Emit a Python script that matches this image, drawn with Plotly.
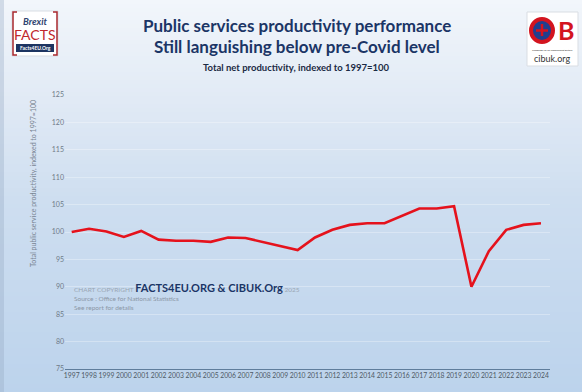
import plotly.graph_objects as go

# Public services total net productivity, index 1997 = 100
years = list(range(1997, 2025))
productivity = [100.0, 100.6, 100.1, 99.1, 100.2, 98.6, 98.4, 98.4, 98.2, 99.0,
                98.9, 98.2, 97.4, 96.7, 99.0, 100.4, 101.3, 101.6, 101.6, 103.0,
                104.3, 104.3, 104.7, 90.0, 96.5, 100.4, 101.3, 101.6]
y_ticks = [75, 80, 85, 90, 95, 100, 105, 110, 115, 120, 125]

W, H = 582, 392
L, R, T, B = 65, 550, 95, 369   # plot area in pixels


def fx(x):
    return (x - L) / (R - L)


def fy(y):
    return (B - y) / (B - T)


def mix(c1, c2, t):
    return "#%02x%02x%02x" % tuple(round(a + (b - a) * t) for a, b in zip(c1, c2))


fig = go.Figure()
fig.add_trace(go.Scatter(
    x=years, y=productivity, mode="lines",
    line=dict(color="#e5121c", width=2.6),
    hoverinfo="skip", showlegend=False,
))

shapes = []
# vertical background gradient, pale at the top to soft blue at the bottom
stops = [(0, (242, 246, 251)), (100, (225, 234, 245)), (200, (206, 222, 240)),
         (392, (188, 211, 236))]
n = 98
for i in range(n):
    y0 = i * H / n
    y1 = (i + 1) * H / n
    ym = (y0 + y1) / 2
    for (a, ca), (b, cb) in zip(stops, stops[1:]):
        if a <= ym <= b:
            col = mix(ca, cb, (ym - a) / (b - a))
            break
    shapes.append(dict(type="rect", xref="paper", yref="paper", layer="below",
                       x0=fx(0), x1=fx(W), y0=fy(y1), y1=fy(y0),
                       fillcolor=col, line=dict(width=0)))
# slight shade on the left edge
shapes.append(dict(type="rect", xref="paper", yref="paper", layer="below",
                   x0=fx(0), x1=fx(4), y0=fy(H), y1=fy(0),
                   fillcolor="rgba(150,170,195,0.35)", line=dict(width=0)))

# Brexit Facts badge
shapes += [
    dict(type="rect", xref="paper", yref="paper", x0=fx(12), x1=fx(58), y0=fy(56), y1=fy(11),
         fillcolor="white", line=dict(color="#d9dde3", width=1)),
    dict(type="path", xref="paper", yref="paper",
         path=f"M {fx(17)},{fy(12)} L {fx(13)},{fy(12)} L {fx(13)},{fy(55)} L {fx(17)},{fy(55)}",
         line=dict(color="#a8282e", width=1.5)),
    dict(type="path", xref="paper", yref="paper",
         path=f"M {fx(53)},{fy(12)} L {fx(57)},{fy(12)} L {fx(57)},{fy(55)} L {fx(53)},{fy(55)}",
         line=dict(color="#a8282e", width=1.5)),
    dict(type="rect", xref="paper", yref="paper", x0=fx(16), x1=fx(54), y0=fy(52), y1=fy(44),
         fillcolor="#1d3461", line=dict(width=0)),
]
# CIB badge
shapes += [
    dict(type="rect", xref="paper", yref="paper", x0=fx(527), x1=fx(578), y0=fy(66), y1=fy(12),
         fillcolor="white", line=dict(color="#d9dde3", width=1)),
    dict(type="circle", xref="paper", yref="paper", x0=fx(531), x1=fx(553), y0=fy(42), y1=fy(19),
         fillcolor="#1f3f8f", line=dict(color="#d3141f", width=4)),
    dict(type="line", xref="paper", yref="paper", x0=fx(536), x1=fx(548), y0=fy(30.5), y1=fy(30.5),
         line=dict(color="#d3141f", width=2.5)),
    dict(type="line", xref="paper", yref="paper", x0=fx(542), x1=fx(542), y0=fy(36), y1=fy(24),
         line=dict(color="#d3141f", width=2.5)),
]

ann = []


def text(x, y, s, size, color, bold=False, xanchor="center", family="Lato", italic=False,
         angle=0):
    if bold:
        s = f"<b>{s}</b>"
    if italic:
        s = f"<i>{s}</i>"
    ann.append(dict(x=fx(x), y=fy(y), xref="paper", yref="paper", text=s, showarrow=False,
                    xanchor=xanchor, yanchor="middle", textangle=angle,
                    font=dict(size=size, color=color, family=family)))


# headings
text(297, 25, "Public services productivity performance", 17, "#1b3566", bold=True)
text(297, 46.5, "Still languishing below pre-Covid level", 17, "#1b3566", bold=True)
text(296, 67.5, "Total net productivity, indexed to 1997=100", 9.5, "#1b2a44", bold=True)

# badge lettering
text(35, 21, "Brexit", 9.5, "#2f4470", bold=True, italic=True)
text(35, 34, "FACTS", 14, "#c0272d", bold=False)
text(35, 48, "Facts4EU.Org", 5, "#ffffff", bold=True)
text(566, 29.5, "B", 25, "#d3141f", bold=True)
text(552, 50, "Campaign for an Independent Britain", 2.5, "#333333")
text(552, 58, "cibuk.org", 9, "#333333")

# vertical axis caption
text(33, 184, "Total public service productivity, indexed to 1997=100", 7, "#7a8593", angle=-90)

# copyright and source block
ann.append(dict(x=fx(72), y=fy(287), xref="paper", yref="paper", showarrow=False,
                xanchor="left", yanchor="middle",
                text="<span style='font-size:6.5px;color:#9aa6b4'>CHART COPYRIGHT </span>"
                     "<b><span style='font-size:11px;color:#1b3566'>FACTS4EU.ORG &amp; CIBUK.Org</span></b>"
                     "<span style='font-size:6.5px;color:#9aa6b4'> 2025</span>",
                font=dict(family="Lato", size=11)))
text(72, 298, "Source : Office for National Statistics", 6.5, "#8b97a6", xanchor="left")
text(72, 307, "See report for details", 6.5, "#8b97a6", xanchor="left")

fig.update_layout(
    width=W, height=H,
    margin=dict(l=L, r=W - R, t=T, b=H - B),
    paper_bgcolor="#cfdff0",
    plot_bgcolor="rgba(0,0,0,0)",
    shapes=shapes,
    annotations=ann,
    xaxis=dict(
        range=[1996.615, 2024.52], tickvals=years, ticktext=[str(y) for y in years],
        tickangle=0, showgrid=False, zeroline=False, showline=True,
        linecolor="#5f7d9c", linewidth=1,
        ticks="", tickfont=dict(size=6.8, color="#4f5a66", family="Lato"),
        fixedrange=True,
    ),
    yaxis=dict(
        range=[75, 125], tickvals=y_ticks, showgrid=True, gridcolor="rgba(255,255,255,0.3)",
        gridwidth=1, zeroline=False, showline=False, ticks="",
        tickfont=dict(size=7, color="#707b88", family="Lato"),
        fixedrange=True,
    ),
    font=dict(family="Lato"),
)

fig.write_html("out.html")
